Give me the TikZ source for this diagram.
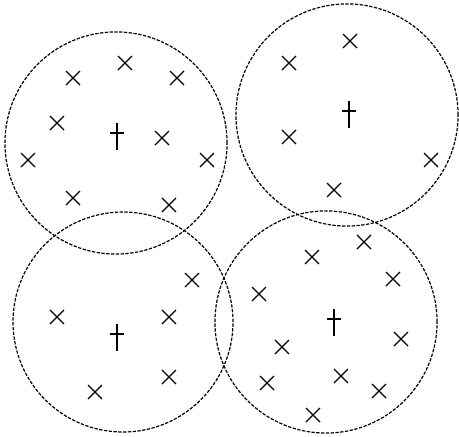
\documentclass[tikz,border=0pt]{standalone}
\begin{document}
\begin{tikzpicture}[x=0.75pt,y=-0.75pt,
  dashcirc/.style={draw=black,line width=0.9pt,dash pattern=on 2.5pt off 1.1pt},
  mk/.style={line width=0.9pt,black},
  xmark/.pic={\draw[mk] (-7,-7)--(7,7) (-7,7)--(7,-7);},
  dagmark/.pic={\draw[mk] (0,-13)--(0,14) (-7,-3)--(7,-3);}]
\useasboundingbox (0,0) rectangle (459,436);
% circles
\coordinate (c1) at (116,143);
\coordinate (c2) at (347,115);
\coordinate (c3) at (123,322);
\coordinate (c4) at (326,322);
\draw[dashcirc] (c1) circle[radius=83.3pt];
\draw[dashcirc] (c2) circle[radius=83.3pt];
\draw[dashcirc] (c3) circle[radius=82.5pt];
\draw[dashcirc] (c4) circle[radius=83.3pt];
% daggers
\pic at (117,136) {dagmark};
\pic at (349,114) {dagmark};
\pic at (117,337) {dagmark};
\pic at (334,322) {dagmark};
% crosses circle 1
\foreach \p in {(73,78),(125,63),(177,78),(57,123),(162,138),(28,160),(207,160),(73,198),(169,205)}
  \pic at \p {xmark};
% circle 2
\foreach \p in {(350,41),(289,63),(289,137),(431,160),(334,190)}
  \pic at \p {xmark};
% circle 3
\foreach \p in {(192,280),(57,317),(169,317),(169,377),(95,392)}
  \pic at \p {xmark};
% circle 4
\foreach \p in {(364,242),(312,257),(393,279),(259,294),(401,339),(282,347),(341,376),(267,383),(379,391),(313,415)}
  \pic at \p {xmark};
\end{tikzpicture}
\end{document}
